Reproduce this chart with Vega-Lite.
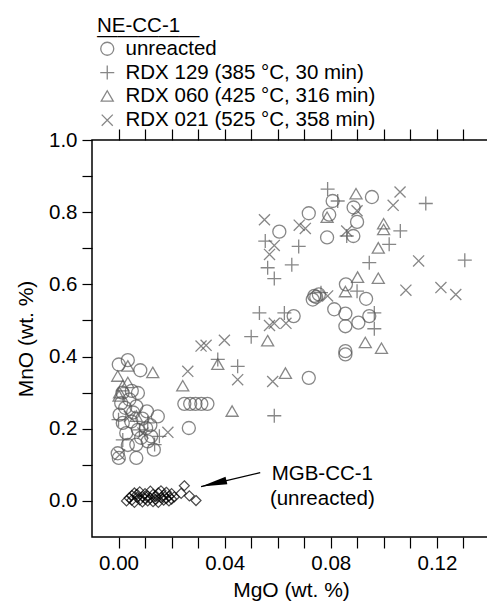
{
  "$schema": "https://vega.github.io/schema/vega-lite/v6.json",
  "width": 398,
  "height": 397,
  "autosize": "none",
  "padding": {"left": 92, "top": 140, "right": 0, "bottom": 67},
  "background": "white",
  "config": {
    "font": "Liberation Sans",
    "view": {"stroke": "#000", "strokeWidth": 1.5},
    "axis": {
      "domain": false, "grid": false, "ticks": true, "tickColor": "#000", "tickWidth": 1.2,
      "labelFont": "Liberation Sans", "labelFontSize": 20.5, "labelColor": "#000",
      "labelOverlap": false, "labelFlush": false,
      "titleFont": "Liberation Sans", "titleFontSize": 21, "titleFontWeight": "normal", "titleColor": "#000"
    }
  },
  "datasets": {
    "ne": [
      {"s": "unreacted", "MgO": 0.0807, "MnO": 0.831},
      {"s": "unreacted", "MgO": 0.0955, "MnO": 0.842},
      {"s": "unreacted", "MgO": 0.0886, "MnO": 0.813},
      {"s": "unreacted", "MgO": 0.0717, "MnO": 0.797},
      {"s": "unreacted", "MgO": 0.0794, "MnO": 0.793},
      {"s": "unreacted", "MgO": 0.0899, "MnO": 0.773},
      {"s": "unreacted", "MgO": 0.0606, "MnO": 0.746},
      {"s": "unreacted", "MgO": 0.0786, "MnO": 0.73},
      {"s": "unreacted", "MgO": 0.0885, "MnO": 0.734},
      {"s": "unreacted", "MgO": 0.0857, "MnO": 0.6},
      {"s": "unreacted", "MgO": 0.0933, "MnO": 0.56},
      {"s": "unreacted", "MgO": 0.0732, "MnO": 0.558},
      {"s": "unreacted", "MgO": 0.0738, "MnO": 0.568},
      {"s": "unreacted", "MgO": 0.0745, "MnO": 0.565},
      {"s": "unreacted", "MgO": 0.0755, "MnO": 0.572},
      {"s": "unreacted", "MgO": 0.0813, "MnO": 0.531},
      {"s": "unreacted", "MgO": 0.0855, "MnO": 0.519},
      {"s": "unreacted", "MgO": 0.0945, "MnO": 0.512},
      {"s": "unreacted", "MgO": 0.0904, "MnO": 0.494},
      {"s": "unreacted", "MgO": 0.0855, "MnO": 0.484},
      {"s": "unreacted", "MgO": 0.066, "MnO": 0.512},
      {"s": "unreacted", "MgO": 0.0717, "MnO": 0.341},
      {"s": "unreacted", "MgO": 0.0855, "MnO": 0.415},
      {"s": "unreacted", "MgO": 0.0855, "MnO": 0.406},
      {"s": "unreacted", "MgO": 0.0248, "MnO": 0.269},
      {"s": "unreacted", "MgO": 0.027, "MnO": 0.269},
      {"s": "unreacted", "MgO": 0.029, "MnO": 0.269},
      {"s": "unreacted", "MgO": 0.0312, "MnO": 0.269},
      {"s": "unreacted", "MgO": 0.0335, "MnO": 0.269},
      {"s": "unreacted", "MgO": 0.0265, "MnO": 0.202},
      {"s": "unreacted", "MgO": 0.0001, "MnO": 0.378},
      {"s": "unreacted", "MgO": 0.0035, "MnO": 0.39},
      {"s": "unreacted", "MgO": 0.0082, "MnO": 0.362},
      {"s": "unreacted", "MgO": 0.0073, "MnO": 0.299},
      {"s": "unreacted", "MgO": 0.001, "MnO": 0.271},
      {"s": "unreacted", "MgO": 0.0041, "MnO": 0.281},
      {"s": "unreacted", "MgO": 0.0067, "MnO": 0.262},
      {"s": "unreacted", "MgO": 0.0004, "MnO": 0.239},
      {"s": "unreacted", "MgO": 0.0107, "MnO": 0.248},
      {"s": "unreacted", "MgO": 0.0148, "MnO": 0.234},
      {"s": "unreacted", "MgO": 0.0016, "MnO": 0.216},
      {"s": "unreacted", "MgO": 0.0048, "MnO": 0.22},
      {"s": "unreacted", "MgO": 0.0073, "MnO": 0.197},
      {"s": "unreacted", "MgO": 0.0029, "MnO": 0.188},
      {"s": "unreacted", "MgO": 0.0104, "MnO": 0.202},
      {"s": "unreacted", "MgO": 0.0123, "MnO": 0.179},
      {"s": "unreacted", "MgO": 0.0067, "MnO": 0.156},
      {"s": "unreacted", "MgO": 0.011, "MnO": 0.165},
      {"s": "unreacted", "MgO": 0.0133, "MnO": 0.142},
      {"s": "unreacted", "MgO": -0.0003, "MnO": 0.132},
      {"s": "unreacted", "MgO": 0.0001, "MnO": 0.119},
      {"s": "unreacted", "MgO": 0.0067, "MnO": 0.119},
      {"s": "unreacted", "MgO": 0.0055, "MnO": 0.245},
      {"s": "unreacted", "MgO": 0.009, "MnO": 0.228},
      {"s": "unreacted", "MgO": 0.0025, "MnO": 0.258},
      {"s": "unreacted", "MgO": 0.012, "MnO": 0.21},
      {"s": "unreacted", "MgO": 0.0085, "MnO": 0.175},
      {"s": "unreacted", "MgO": 0.0035, "MnO": 0.155},
      {"s": "unreacted", "MgO": 0.0015, "MnO": 0.3},
      {"s": "unreacted", "MgO": 0.005, "MnO": 0.305},
      {"s": "RDX 129", "MgO": 0.0788, "MnO": 0.864},
      {"s": "RDX 129", "MgO": 0.0826, "MnO": 0.831},
      {"s": "RDX 129", "MgO": 0.1158, "MnO": 0.824},
      {"s": "RDX 129", "MgO": 0.1062, "MnO": 0.748},
      {"s": "RDX 129", "MgO": 0.086, "MnO": 0.734},
      {"s": "RDX 129", "MgO": 0.0553, "MnO": 0.72},
      {"s": "RDX 129", "MgO": 0.0679, "MnO": 0.705},
      {"s": "RDX 129", "MgO": 0.102, "MnO": 0.711},
      {"s": "RDX 129", "MgO": 0.1305, "MnO": 0.667},
      {"s": "RDX 129", "MgO": 0.0945, "MnO": 0.66},
      {"s": "RDX 129", "MgO": 0.0562, "MnO": 0.646},
      {"s": "RDX 129", "MgO": 0.0653, "MnO": 0.654},
      {"s": "RDX 129", "MgO": 0.0587, "MnO": 0.616},
      {"s": "RDX 129", "MgO": 0.0899, "MnO": 0.581},
      {"s": "RDX 129", "MgO": 0.0763, "MnO": 0.577},
      {"s": "RDX 129", "MgO": 0.0964, "MnO": 0.521},
      {"s": "RDX 129", "MgO": 0.0964, "MnO": 0.477},
      {"s": "RDX 129", "MgO": 0.0531, "MnO": 0.521},
      {"s": "RDX 129", "MgO": 0.0625, "MnO": 0.521},
      {"s": "RDX 129", "MgO": 0.05, "MnO": 0.455},
      {"s": "RDX 129", "MgO": 0.0374, "MnO": 0.392},
      {"s": "RDX 129", "MgO": 0.0449, "MnO": 0.373},
      {"s": "RDX 129", "MgO": 0.0587, "MnO": 0.236},
      {"s": "RDX 129", "MgO": 0.0154, "MnO": 0.179},
      {"s": "RDX 129", "MgO": 0.0016, "MnO": 0.169},
      {"s": "RDX 129", "MgO": 0.0136, "MnO": 0.156},
      {"s": "RDX 129", "MgO": 0.0079, "MnO": 0.197},
      {"s": "RDX 129", "MgO": 0.0, "MnO": 0.225},
      {"s": "RDX 129", "MgO": 0.011, "MnO": 0.216},
      {"s": "RDX 060", "MgO": 0.0895, "MnO": 0.85},
      {"s": "RDX 060", "MgO": 0.0786, "MnO": 0.785},
      {"s": "RDX 060", "MgO": 0.0999, "MnO": 0.767},
      {"s": "RDX 060", "MgO": 0.0999, "MnO": 0.751},
      {"s": "RDX 060", "MgO": 0.0979, "MnO": 0.7},
      {"s": "RDX 060", "MgO": 0.0901, "MnO": 0.619},
      {"s": "RDX 060", "MgO": 0.0979, "MnO": 0.616},
      {"s": "RDX 060", "MgO": 0.0855, "MnO": 0.579},
      {"s": "RDX 060", "MgO": 0.0562, "MnO": 0.443},
      {"s": "RDX 060", "MgO": 0.093, "MnO": 0.438},
      {"s": "RDX 060", "MgO": 0.0991, "MnO": 0.422},
      {"s": "RDX 060", "MgO": 0.0374, "MnO": 0.378},
      {"s": "RDX 060", "MgO": 0.0629, "MnO": 0.353},
      {"s": "RDX 060", "MgO": 0.0428, "MnO": 0.248},
      {"s": "RDX 060", "MgO": 0.0242, "MnO": 0.318},
      {"s": "RDX 060", "MgO": 0.0035, "MnO": 0.373},
      {"s": "RDX 060", "MgO": 0.0129, "MnO": 0.355},
      {"s": "RDX 060", "MgO": -0.0003, "MnO": 0.345},
      {"s": "RDX 060", "MgO": 0.0035, "MnO": 0.327},
      {"s": "RDX 060", "MgO": 0.0016, "MnO": 0.318},
      {"s": "RDX 060", "MgO": 0.0004, "MnO": 0.299},
      {"s": "RDX 060", "MgO": 0.0002, "MnO": 0.29},
      {"s": "RDX 060", "MgO": 0.0067, "MnO": 0.234},
      {"s": "RDX 021", "MgO": 0.1061, "MnO": 0.856},
      {"s": "RDX 021", "MgO": 0.1035, "MnO": 0.819},
      {"s": "RDX 021", "MgO": 0.0899, "MnO": 0.804},
      {"s": "RDX 021", "MgO": 0.055, "MnO": 0.779},
      {"s": "RDX 021", "MgO": 0.0681, "MnO": 0.764},
      {"s": "RDX 021", "MgO": 0.0704, "MnO": 0.755},
      {"s": "RDX 021", "MgO": 0.086, "MnO": 0.748},
      {"s": "RDX 021", "MgO": 0.0587, "MnO": 0.708},
      {"s": "RDX 021", "MgO": 0.0569, "MnO": 0.683},
      {"s": "RDX 021", "MgO": 0.1131, "MnO": 0.665},
      {"s": "RDX 021", "MgO": 0.1083, "MnO": 0.584},
      {"s": "RDX 021", "MgO": 0.1215, "MnO": 0.591},
      {"s": "RDX 021", "MgO": 0.1271, "MnO": 0.572},
      {"s": "RDX 021", "MgO": 0.0788, "MnO": 0.568},
      {"s": "RDX 021", "MgO": 0.0569, "MnO": 0.486},
      {"s": "RDX 021", "MgO": 0.0587, "MnO": 0.492},
      {"s": "RDX 021", "MgO": 0.0631, "MnO": 0.492},
      {"s": "RDX 021", "MgO": 0.033, "MnO": 0.431},
      {"s": "RDX 021", "MgO": 0.0311, "MnO": 0.429},
      {"s": "RDX 021", "MgO": 0.0399, "MnO": 0.445},
      {"s": "RDX 021", "MgO": 0.0449, "MnO": 0.336},
      {"s": "RDX 021", "MgO": 0.0581, "MnO": 0.331},
      {"s": "RDX 021", "MgO": 0.0261, "MnO": 0.359},
      {"s": "RDX 021", "MgO": 0.0186, "MnO": 0.19},
      {"s": "RDX 021", "MgO": 0.0004, "MnO": 0.128},
      {"s": "RDX 021", "MgO": 0.0041, "MnO": 0.234},
      {"s": "RDX 021", "MgO": 0.0092, "MnO": 0.188}
    ],
    "mgb": [
      {"MgO": 0.003, "MnO": 0.0}, {"MgO": 0.004, "MnO": 0.008}, {"MgO": 0.005, "MnO": 0.015},
      {"MgO": 0.005, "MnO": 0.002}, {"MgO": 0.006, "MnO": 0.022}, {"MgO": 0.006, "MnO": -0.004},
      {"MgO": 0.007, "MnO": 0.01}, {"MgO": 0.007, "MnO": 0.018}, {"MgO": 0.008, "MnO": 0.003},
      {"MgO": 0.008, "MnO": 0.025}, {"MgO": 0.009, "MnO": 0.012}, {"MgO": 0.009, "MnO": -0.003},
      {"MgO": 0.01, "MnO": 0.006}, {"MgO": 0.01, "MnO": 0.02}, {"MgO": 0.011, "MnO": 0.0},
      {"MgO": 0.011, "MnO": 0.014}, {"MgO": 0.012, "MnO": 0.027}, {"MgO": 0.012, "MnO": 0.008},
      {"MgO": 0.013, "MnO": -0.002}, {"MgO": 0.013, "MnO": 0.018}, {"MgO": 0.014, "MnO": 0.004},
      {"MgO": 0.014, "MnO": 0.012}, {"MgO": 0.015, "MnO": 0.022}, {"MgO": 0.015, "MnO": -0.004},
      {"MgO": 0.016, "MnO": 0.009}, {"MgO": 0.016, "MnO": 0.028}, {"MgO": 0.017, "MnO": 0.002},
      {"MgO": 0.017, "MnO": 0.016}, {"MgO": 0.018, "MnO": 0.007}, {"MgO": 0.018, "MnO": 0.024},
      {"MgO": 0.019, "MnO": 0.0}, {"MgO": 0.019, "MnO": 0.013}, {"MgO": 0.02, "MnO": 0.02},
      {"MgO": 0.02, "MnO": 0.005}, {"MgO": 0.021, "MnO": 0.011}, {"MgO": 0.0236, "MnO": 0.021},
      {"MgO": 0.0248, "MnO": 0.042}, {"MgO": 0.0267, "MnO": 0.014}, {"MgO": 0.0292, "MnO": 0.001}
    ],
    "arrow": [{"x": 0.0534, "y": 0.0786, "x2": 0.0311, "y2": 0.0397}],
    "head": [{"x": 0.0359, "y": 0.0481}],
    "label": [{"x": 0.0768, "y": 0.0583, "t": "MGB-CC-1\n(unreacted)"}]
  },
  "resolve": {"axis": {"x": "independent", "y": "independent"}},
  "layer": [
    {
      "data": {"name": "mgb"},
      "mark": {"type": "point", "filled": false, "color": "#000", "strokeWidth": 1.2, "size": 100, "shape": "M0,-1L1,0L0,1L-1,0Z"},
      "encoding": {
        "x": {"field": "MgO", "type": "quantitative", "scale": {"domain": [-0.01, 0.14], "nice": false, "zero": false},
          "axis": {"orient": "top", "values": [0, 0.01, 0.02, 0.03, 0.04, 0.05, 0.06, 0.07, 0.08, 0.09, 0.1, 0.11, 0.12, 0.13, 0.14],
            "labels": false, "title": null, "tickSize": 11,
            "encode": {"ticks": {"update": {"y2": {"signal": "round(datum.value*100)%2==0 ? 11 : 5"}}}}}},
        "y": {"field": "MnO", "type": "quantitative", "scale": {"domain": [-0.1, 1.0], "nice": false, "zero": false},
          "axis": {"orient": "right", "values": [0, 0.1, 0.2, 0.3, 0.4, 0.5, 0.6, 0.7, 0.8, 0.9, 1.0],
            "labels": false, "title": null, "tickSize": 10,
            "encode": {"ticks": {"update": {"x2": {"signal": "round(datum.value*10)%2==0 ? -10 : -5"}}}}}}
      }
    },
    {
      "data": {"name": "ne"},
      "mark": {"type": "point", "filled": false, "color": "#555", "strokeWidth": 1.3, "size": 196},
      "encoding": {
        "x": {"field": "MgO", "type": "quantitative",
          "axis": {"orient": "bottom", "values": [0, 0.01, 0.02, 0.03, 0.04, 0.05, 0.06, 0.07, 0.08, 0.09, 0.1, 0.11, 0.12, 0.13, 0.14],
            "labelExpr": "round(datum.value*100)%4==0 && datum.value<0.13 ? format(datum.value,'.2f') : ''",
            "tickSize": 11, "labelPadding": 5, "title": "MgO (wt. %)", "titlePadding": 6,
            "encode": {"ticks": {"update": {"y2": {"signal": "round(datum.value*100)%2==0 ? -11 : -5"}}}}}},
        "y": {"field": "MnO", "type": "quantitative",
          "axis": {"orient": "left", "values": [0, 0.1, 0.2, 0.3, 0.4, 0.5, 0.6, 0.7, 0.8, 0.9, 1.0],
            "labelExpr": "round(datum.value*10)%2==0 ? format(datum.value,'.1f') : ''",
            "tickSize": 10, "labelPadding": 5, "title": "MnO (wt. %)", "titlePadding": 12,
            "encode": {"ticks": {"update": {"x2": {"signal": "round(datum.value*10)%2==0 ? 10 : 5"}}}}}},
        "shape": {"field": "s", "type": "nominal",
          "scale": {"domain": ["unreacted", "RDX 129", "RDX 060", "RDX 021"],
            "range": ["M-0.93,0A0.93,0.93,0,1,0,0.93,0A0.93,0.93,0,1,0,-0.93,0Z", "M-1,0L1,0M0,-1L0,1", "M0,-0.8L0.86,0.69L-0.86,0.69Z", "M-0.79,-0.79L0.79,0.79M-0.79,0.79L0.79,-0.79"]},
          "legend": {"orient": "none", "legendX": 5, "legendY": -124, "padding": 0,
            "title": ["\u00a0\u00a0NE-CC-1", "\u2014\u2014\u2014\u2014\u2014"],
            "titleFont": "Liberation Sans", "titleFontSize": 20.5, "titleFontWeight": "normal", "titleColor": "#000",
            "titleAnchor": "start", "titleAlign": "left", "titleLineHeight": 9.5, "titlePadding": -7.5,
            "labelFont": "Liberation Sans", "labelFontSize": 20.5, "labelColor": "#000", "labelOffset": 8, "labelLimit": 400,
            "symbolSize": 196, "symbolStrokeWidth": 1.3, "symbolStrokeColor": "#555", "symbolFillColor": "transparent",
            "rowPadding": 2.8,
            "labelExpr": "datum.label=='RDX 129' ? 'RDX 129 (385 °C, 30 min)' : datum.label=='RDX 060' ? 'RDX 060 (425 °C, 316 min)' : datum.label=='RDX 021' ? 'RDX 021 (525 °C, 358 min)' : datum.label"}}
      }
    },
    {
      "data": {"name": "arrow"},
      "mark": {"type": "rule", "color": "#000", "strokeWidth": 1.2},
      "encoding": {
        "x": {"field": "x", "type": "quantitative", "axis": null},
        "y": {"field": "y", "type": "quantitative", "axis": null},
        "x2": {"field": "x2"},
        "y2": {"field": "y2"}
      }
    },
    {
      "data": {"name": "head"},
      "mark": {"type": "point", "shape": "M-1,0L1,-0.3L1,0.3Z", "filled": true, "color": "#000", "size": 676, "angle": 346.7, "opacity": 1},
      "encoding": {
        "x": {"field": "x", "type": "quantitative", "axis": null},
        "y": {"field": "y", "type": "quantitative", "axis": null}
      }
    },
    {
      "data": {"name": "label"},
      "mark": {"type": "text", "font": "Liberation Sans", "fontSize": 20.5, "align": "center", "baseline": "alphabetic", "lineBreak": "\n", "lineHeight": 25, "color": "#000"},
      "encoding": {
        "x": {"field": "x", "type": "quantitative", "axis": null},
        "y": {"field": "y", "type": "quantitative", "axis": null},
        "text": {"field": "t", "type": "nominal"}
      }
    }
  ]
}
